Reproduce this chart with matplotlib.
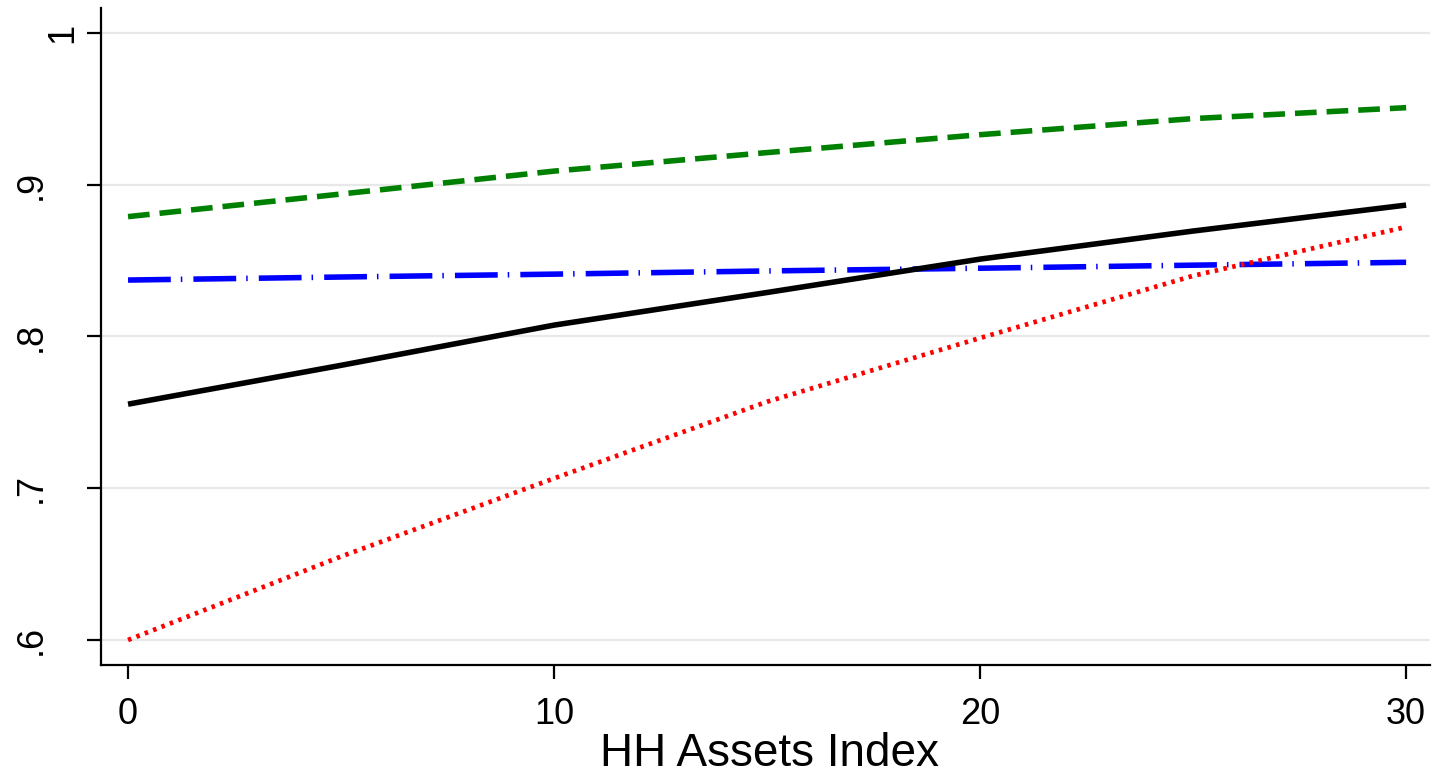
import matplotlib
matplotlib.use("Agg")
import matplotlib.pyplot as plt
import matplotlib.transforms as mtransforms

# values
assets = [0, 5, 10, 15, 20, 25, 30]
black_solid = [0.7554, 0.7810, 0.8075, 0.8290, 0.8510, 0.8695, 0.8866]
red_dotted = [0.6000, 0.6550, 0.7065, 0.7570, 0.7990, 0.8400, 0.8722]
green_dashed = [0.8790, 0.8939, 0.9090, 0.9212, 0.9330, 0.9436, 0.9508]
blue_dashdot = [0.8372, 0.8392, 0.8411, 0.8432, 0.8450, 0.8470, 0.8489]

x_ticks = [0, 10, 20, 30]
y_ticks = [0.6, 0.7, 0.8, 0.9, 1.0]
y_tick_labels = [".6", ".7", ".8", ".9", "1"]

plt.rcParams["font.family"] = ["Liberation Sans", "DejaVu Sans"]

fig = plt.figure(figsize=(14.33, 7.68), dpi=100)
ax = fig.add_axes([0.0705, 0.1341, 0.9274, 0.8555])

lw = 4.0
ax.plot(assets, blue_dashdot, color="#0000ff", lw=lw,
        linestyle=(0, (7.7, 1.8, 0.27, 2.0)), dash_capstyle="butt")
ax.plot(assets, green_dashed, color="#008000", lw=lw,
        linestyle=(0, (3.9, 1.8)), dash_capstyle="butt")
ax.plot(assets, black_solid, color="black", lw=lw, solid_capstyle="butt")
ax.plot(assets, red_dotted, color="#ff0000", lw=3.4,
        linestyle=(0, (0.75, 1.15)), dash_capstyle="butt")

ax.set_xlim(-0.634, 30.56)
ax.set_ylim(0.5835, 1.0165)

ax.set_axisbelow(True)
ax.yaxis.grid(True, color="#e8e8e8", lw=1.6)

for side in ("top", "right"):
    ax.spines[side].set_visible(False)
for side in ("left", "bottom"):
    ax.spines[side].set_linewidth(1.6)

ax.set_xticks(x_ticks)
ax.set_xticklabels([str(t) for t in x_ticks])
ax.set_yticks(y_ticks)
ax.set_yticklabels(y_tick_labels, rotation=90, va="center")

ax.tick_params(axis="both", direction="out", length=10, width=1.6,
               labelsize=26, color="black")
ax.tick_params(axis="y", pad=27.6)
ax.tick_params(axis="x", pad=13)

# the "1" label sits further right in the original
shift = mtransforms.ScaledTranslation(0.31, 0, fig.dpi_scale_trans)
one = ax.get_yticklabels()[-1]
one.set_transform(one.get_transform() + shift)

ax.set_xlabel("HH Assets Index", fontsize=33)
ax.xaxis.set_label_coords(0.503, -0.102)

fig.savefig("out.png", dpi=100)
